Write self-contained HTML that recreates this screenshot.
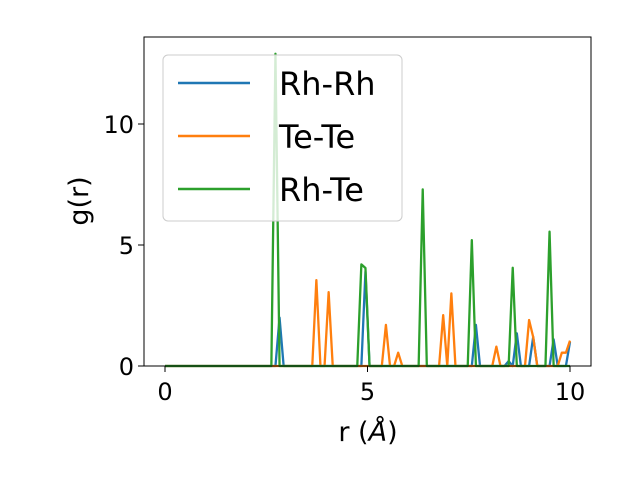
<!DOCTYPE html>
<html><head><meta charset="utf-8"><style>
body{margin:0;background:#fff}
text{font-family:"DejaVu Sans","Liberation Sans",sans-serif}
</style></head><body>
<svg id="chart" width="640" height="480" viewBox="0 0 640 480" xmlns="http://www.w3.org/2000/svg">
<rect width="640" height="480" fill="#fff"/>
<g id="marks"></g>
<rect x="144" y="37" width="447" height="329" fill="none" stroke="#000" stroke-width="1"/>
<g id="ticks"></g>
<text x="368" y="441" font-size="27" text-anchor="middle">r (<tspan font-style="italic">Å</tspan>)</text>
<text x="88" y="201" font-size="27" text-anchor="middle" transform="rotate(-90 88 201)">g(r)</text>
<g>
<rect x="163" y="55" width="239" height="166" rx="5" fill="#fff" fill-opacity="0.8" stroke="#ccc"/>
<line x1="178" y1="83" x2="250" y2="83" stroke="#1f77b4" stroke-width="2.5"/>
<text x="279" y="95" font-size="32">Rh-Rh</text>
<line x1="178" y1="136" x2="250" y2="136" stroke="#ff7f0e" stroke-width="2.5"/>
<text x="279" y="148" font-size="32">Te-Te</text>
<line x1="178" y1="189" x2="250" y2="189" stroke="#2ca02c" stroke-width="2.5"/>
<text x="279" y="201" font-size="32">Rh-Te</text>
</g>
</svg>
<script>
const nPoints = 100;
const rMax = 10;
const rhrhIdx = [28, 49, 76, 84, 86, 90, 95, 99];
const rhrhVal = [2.0, 3.9, 1.7, 0.2, 1.35, 1.2, 1.1, 1.0];
const teteIdx = [37, 40, 54, 57, 68, 70, 81, 89, 90, 97, 98, 99];
const teteVal = [3.55, 3.05, 1.7, 0.55, 2.1, 3.0, 0.8, 1.9, 1.2, 0.55, 0.55, 1.05];
const rhteIdx = [27, 48, 49, 63, 75, 85, 94];
const rhteVal = [12.9, 4.2, 4.05, 7.3, 5.2, 4.06, 5.55];
const xTicks = [0, 5, 10];
const yTicks = [0, 5, 10];

const X = r => 165 + r * 40.5;
const Y = g => 366 - g * 24.2;
const ns = "http://www.w3.org/2000/svg";
function series(idx, val){
  const a = new Array(nPoints).fill(0);
  idx.forEach((k, j) => a[k] = val[j]);
  return a;
}
const marks = document.getElementById('marks');
[["rh-rh", rhrhIdx, rhrhVal, "#1f77b4"], ["te-te", teteIdx, teteVal, "#ff7f0e"], ["rh-te", rhteIdx, rhteVal, "#2ca02c"]].forEach(s => {
  const ys = series(s[1], s[2]);
  const pts = ys.map((g, i) => X(i * rMax / (nPoints - 1)).toFixed(2) + "," + Y(g).toFixed(2)).join(" ");
  const pl = document.createElementNS(ns, "polyline");
  pl.setAttribute("points", pts);
  pl.setAttribute("fill", "none");
  pl.setAttribute("stroke", s[3]);
  pl.setAttribute("stroke-width", "2.3");
  pl.setAttribute("stroke-linejoin", "round");
  
  
  marks.appendChild(pl);
});
const tk = document.getElementById('ticks');
xTicks.forEach(v => {
  const l = document.createElementNS(ns, "line");
  l.setAttribute("x1", X(v)); l.setAttribute("x2", X(v));
  l.setAttribute("y1", 366); l.setAttribute("y2", 372);
  l.setAttribute("stroke", "#000");
  
  
  tk.appendChild(l);
  const t = document.createElementNS(ns, "text");
  t.setAttribute("x", X(v)); t.setAttribute("y", 400);
  t.setAttribute("font-size", "24"); t.setAttribute("text-anchor", "middle");
  t.textContent = v;
  
  
  tk.appendChild(t);
});
yTicks.forEach(v => {
  const l = document.createElementNS(ns, "line");
  l.setAttribute("x1", 138); l.setAttribute("x2", 144);
  l.setAttribute("y1", Y(v)); l.setAttribute("y2", Y(v));
  l.setAttribute("stroke", "#000");
  
  
  tk.appendChild(l);
  const t = document.createElementNS(ns, "text");
  t.setAttribute("x", 134); t.setAttribute("y", Y(v) + 9);
  t.setAttribute("font-size", "24"); t.setAttribute("text-anchor", "end");
  t.textContent = v;
  
  
  tk.appendChild(t);
});
</script>
</body></html>
